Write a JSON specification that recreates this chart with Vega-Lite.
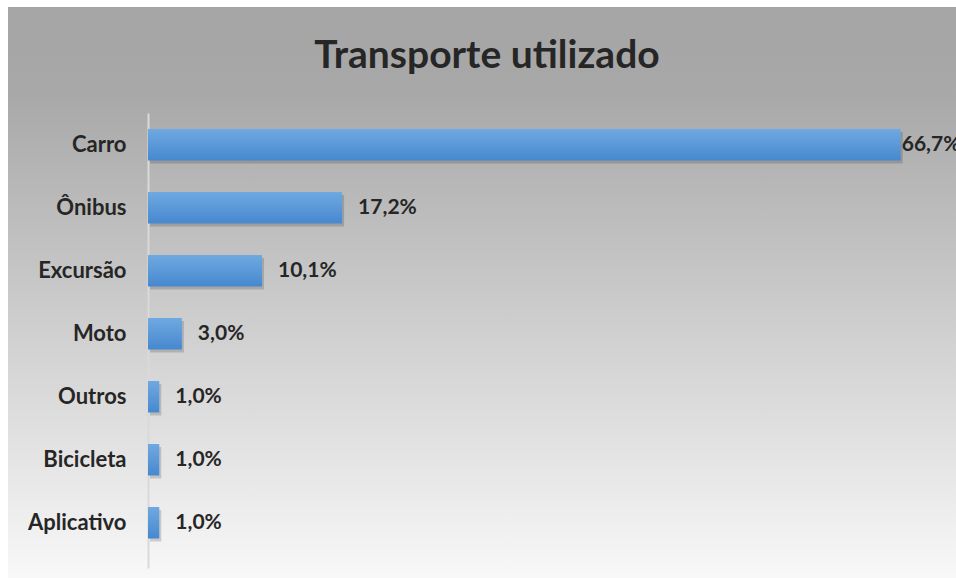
{
  "$schema": "https://vega.github.io/schema/vega-lite/v6.json",
  "autosize": {"type": "none"},
  "padding": {"left": 8, "top": 7, "right": 0, "bottom": 0},
  "width": 948,
  "height": 571,
  "background": "white",
  "title": {
    "text": "Transporte utilizado",
    "orient": "top",
    "anchor": "middle",
    "frame": "group",
    "offset": -69,
    "dx": 5,
    "font": "Lato",
    "fontSize": 39,
    "fontWeight": "bold",
    "color": "#262626"
  },
  "data": {
    "values": [
      {"cat": "Carro", "v": 66.7, "label": "66,7%"},
      {"cat": "Ônibus", "v": 17.2, "label": "17,2%"},
      {"cat": "Excursão", "v": 10.1, "label": "10,1%"},
      {"cat": "Moto", "v": 3.0, "label": "3,0%"},
      {"cat": "Outros", "v": 1.0, "label": "1,0%"},
      {"cat": "Bicicleta", "v": 1.0, "label": "1,0%"},
      {"cat": "Aplicativo", "v": 1.0, "label": "1,0%"}
    ]
  },
  "encoding": {
    "y": {
      "field": "cat",
      "type": "nominal",
      "sort": null,
      "scale": {"range": [106, 561], "paddingInner": 0.5, "paddingOuter": 0.36, "align": 0.35},
      "axis": {
        "title": null,
        "offset": -140,
        "ticks": false,
        "tickSize": 0,
        "domainColor": "#d9d9d9",
        "domainWidth": 2,
        "labelFont": "Lato",
        "labelFontSize": 22,
        "labelFontWeight": "bold",
        "labelColor": "#262626",
        "labelPadding": 22,
        "grid": false
      }
    },
    "x": {
      "field": "v",
      "type": "quantitative",
      "scale": {"domain": [0, 70], "range": [140, 930], "nice": false, "zero": true},
      "axis": null
    }
  },
  "layer": [
    {
      "mark": {"type": "bar", "color": "#000000", "opacity": 0.16, "xOffset": 2, "yOffset": 3}
    },
    {
      "mark": {
        "type": "bar",
        "color": {
          "gradient": "linear",
          "x1": 0, "y1": 0, "x2": 0, "y2": 1,
          "stops": [
            {"offset": 0, "color": "#70a9e1"},
            {"offset": 1, "color": "#4688cf"}
          ]
        }
      }
    },
    {
      "transform": [{"filter": "datum.v < 50"}],
      "mark": {"type": "text", "align": "left", "baseline": "middle", "dx": 16, "font": "Lato", "fontSize": 21, "fontWeight": "bold", "color": "#262626"},
      "encoding": {"text": {"field": "label"}}
    },
    {
      "transform": [{"filter": "datum.v >= 50"}],
      "mark": {"type": "text", "align": "left", "baseline": "middle", "dx": 1, "font": "Lato", "fontSize": 21, "fontWeight": "bold", "color": "#262626"},
      "encoding": {"text": {"field": "label"}}
    }
  ],
  "config": {
    "view": {
      "fill": {
        "gradient": "linear",
        "x1": 0, "y1": 0, "x2": 0, "y2": 1,
        "stops": [
          {"offset": 0, "color": "#a5a5a5"},
          {"offset": 0.15, "color": "#a8a8a8"},
          {"offset": 1, "color": "#f8f8f8"}
        ]
      },
      "stroke": null
    }
  }
}
